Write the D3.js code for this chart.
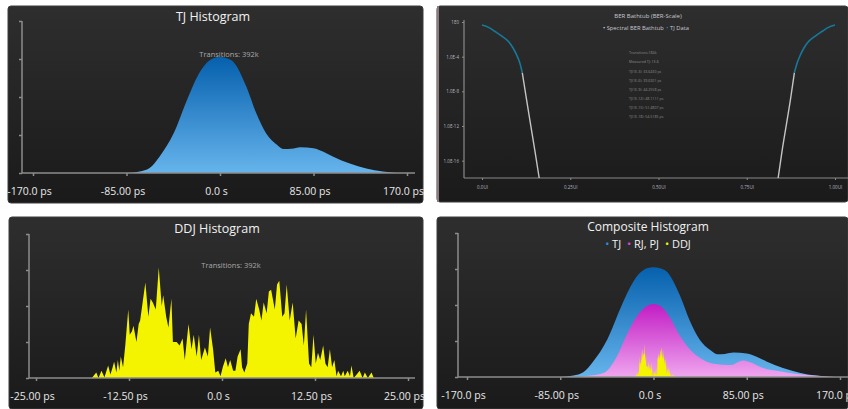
<!DOCTYPE html>
<html>
<head>
<meta charset="utf-8">
<script src="https://cdn.jsdelivr.net/npm/d3@7"></script>
<style>
body { margin: 0; background: #ffffff; }
text { font-family: "Open Sans", "Noto Sans", sans-serif; }
</style>
</head>
<body>
<svg id="chart" width="848" height="409"></svg>
<script>
// TJ histogram (ps, relative counts)
var tjPs  = [-95, -85, -73, -64, -55, -42, -30, -18, -6, 0, 6, 12, 24, 33, 42, 52, 58, 65, 73, 85, 94, 103, 118, 133, 148, 164, 175];
var tjVal = [0, 0, 0.04, 0.13, 0.43, 1.05, 1.92, 2.67, 3.02, 3.05, 3.02, 2.93, 2.27, 1.57, 1.04, 0.74, 0.63, 0.64, 0.68, 0.65, 0.56, 0.43, 0.25, 0.12, 0.04, 0, 0];

// RJ, PJ part of the composite histogram
var rjPs  = [-75, -67, -61, -45.5, -33.4, -24.3, -15.2, -7.6, 0, 7.6, 15.2, 24.3, 33.4, 42.5, 54.6, 69.8, 82, 88, 100, 115, 130.5, 145.7, 161, 170];
var rjVal = [0, 0.01, 0.03, 0.11, 0.57, 1.18, 1.69, 1.94, 2.03, 1.94, 1.64, 1.13, 0.76, 0.53, 0.37, 0.33, 0.46, 0.41, 0.25, 0.16, 0.08, 0.04, 0.01, 0];

// DDJ histogram
var ddjPs = [-17.5, -16.9, -16.6, -16.2, -15.8, -15.3, -15.0, -14.7, -14.5, -14.2, -14.0, -13.8, -13.6, -13.3, -13.0,
  -12.6, -12.4, -12.1, -11.9, -11.5, -11.2, -11.0, -10.6, -10.3, -9.9, -9.6, -9.3, -8.9, -8.5, -8.1, -7.9, -7.5,
  -7.2, -6.8, -6.6, -6.1, -5.7, -5.3, -5.0, -4.5, -4.1, -3.8, -3.4, -3.1, -2.8, -2.3, -1.9, -1.6, -1.2, -0.9,
  -0.5, -0.2, 0.1, 0.5, 0.8, 1.1, 1.5, 1.8, 2.1, 2.5, 2.7, 3.0, 3.4, 3.6, 3.9, 4.3, 4.6, 5.0, 5.3, 5.6, 6.0,
  6.3, 6.6, 7.1, 7.4, 7.7, 8.1, 8.4, 8.7, 9.1, 9.5, 9.9, 10.3, 10.7, 11.0, 11.3, 11.7, 12.0, 12.3, 12.6, 12.9,
  13.2, 13.6, 13.9, 14.2, 14.5, 14.8, 15.1, 15.4, 15.6, 16.0, 16.3, 16.5, 16.9, 17.2, 17.4, 17.7, 18.1, 18.5,
  18.9, 19.2, 19.6, 20.1, 20.4];
var ddjVal = [0, 0.15, 0, 0.2, 0.02, 0.35, 0.1, 0.3, 0.45, 0.15, 0.5, 0.2, 0.6, 0.3, 0.9,
  1.9, 1.2, 1.3, 1.45, 1.0, 1.5, 1.6, 2.2, 2.65, 1.7, 2.2, 2.1, 1.9, 3.07, 2.0, 2.3, 1.7,
  1.4, 2.2, 1.0, 1.0, 0.9, 1.1, 0.5, 1.5, 0.8, 1.2, 0.6, 1.2, 0.5, 0.85, 0.6, 1.4, 0.8, 0.15,
  0.2, 0.05, 0.3, 0.55, 0.3, 0.5, 0.2, 0.2, 0.6, 0.8, 0.3, 0.15, 0.4, 1.5, 1.8, 1.7, 2.2, 1.9, 1.6, 2.1, 1.8,
  2.4, 2.45, 1.9, 2.6, 2.7, 1.7, 1.8, 2.6, 1.6, 2.1, 1.1, 1.6, 1.5, 0.9, 1.9, 0.4, 0.3, 1.2, 0.4, 0.7,
  0.5, 0.9, 0.4, 0.3, 0.8, 0.3, 0.5, 0.05, 0.2, 0.05, 0.2, 0.05, 0.2, 0.05, 0.35, 0, 0.1, 0.2,
  0, 0.15, 0, 0.15, 0];
var ddjCompositeScale = 0.3;

// tick labels
var psTicks = [-170, -85, 0, 85, 170];
var psTickLabels = ["-170.0 ps", "-85.00 ps", "0.0 s", "85.00 ps", "170.0 ps"];
var ddjTicks = [-25, -12.5, 0, 12.5, 25];
var ddjTickLabels = ["-25.00 ps", "-12.50 ps", "0.0 s", "12.50 ps", "25.00 ps"];

// BER bathtub (UI, log10 BER)
var tjLeftUi   = [0, 0.02, 0.037, 0.055, 0.075, 0.088, 0.098, 0.107, 0.114];
var tjLeftExp  = [-0.35, -0.65, -1.1, -1.6, -2.26, -3.0, -3.8, -4.7, -5.83];
var specLeftUi  = [0.114, 0.126, 0.138, 0.150, 0.162];
var specLeftExp = [-5.83, -8.9, -11.9, -14.9, -18];
var specRightUi  = [0.839, 0.850, 0.862, 0.874, 0.885];
var specRightExp = [-18, -14.9, -11.9, -8.9, -5.83];
var tjRightUi  = [0.885, 0.893, 0.902, 0.912, 0.925, 0.945, 0.963, 0.98, 1.0];
var tjRightExp = [-5.83, -4.7, -3.8, -3.0, -2.26, -1.6, -1.1, -0.65, -0.35];
var berYTicks = [0, -4, -8, -12, -16];
var berYLabels = ["1E0", "1.0E-4", "1.0E-8", "1.0E-12", "1.0E-16"];
var berXTicks = [0, 0.25, 0.5, 0.75, 1];
var berXLabels = ["0.0UI", "0.25UI", "0.50UI", "0.75UI", "1.00UI"];
var berStats = ["Transitions:184k", "Measured TJ: 1E-6", "TJ(1E-3): 33.6430 ps", "TJ(1E-6): 39.6301 ps",
  "TJ(1E-9): 44.2558 ps", "TJ(1E-12): 48.1111 ps", "TJ(1E-15): 51.4807 ps", "TJ(1E-18): 54.5185 ps"];

// legends
var berLegendNames = ["Spectral BER Bathtub", "TJ Data"];
var berLegendColors = ["#e0e0e0", "#1a8fb8"];
var compLegendNames = ["TJ", "RJ, PJ", "DDJ"];
var compLegendColors = ["#2e8ed8", "#e040e0", "#f4f400"];

var svg = d3.select("#chart");
var defs = svg.append("defs");

function linGrad(id, c0, c1) {
    var g = defs.append("linearGradient").attr("id", id)
        .attr("x1", 0).attr("y1", 0).attr("x2", 0).attr("y2", 1);
    g.append("stop").attr("offset", "0%").attr("stop-color", c0);
    g.append("stop").attr("offset", "100%").attr("stop-color", c1);
}
linGrad("panelBg", "#2e2e2e", "#1a1a1a");
linGrad("tjFill", "#0660ad", "#66b4ec");
linGrad("rjFill", "#c21cc4", "#efa6ef");

function panel(x, y, w, h) {
    svg.append("rect")
        .attr("x", x).attr("y", y).attr("width", w).attr("height", h)
        .attr("rx", 3)
        .attr("fill", "url(#panelBg)")
        .attr("stroke", "#3c3c3c");
}

function zip(a, b) {
    return a.map(function (v, i) { return [v, b[i]]; });
}

// axes for the three histogram panels
function histAxes(o) {
    var g = svg.append("g");
    g.append("line")
        .attr("x1", o.axisX).attr("x2", o.axisX)
        .attr("y1", o.y.range()[1]).attr("y2", o.y.range()[0])
        .attr("stroke", "#8c8c8c").attr("stroke-width", 1.5);
    g.append("line")
        .attr("x1", o.axisX).attr("x2", o.axisEnd)
        .attr("y1", o.y.range()[0]).attr("y2", o.y.range()[0])
        .attr("stroke", "#8c8c8c").attr("stroke-width", 1.5);

    var ya = g.append("g")
        .attr("transform", "translate(" + o.axisX + ",0)")
        .call(d3.axisLeft(o.y).ticks(4).tickSize(3).tickFormat(""));
    ya.select(".domain").remove();
    ya.selectAll("line").attr("stroke", "#8c8c8c").attr("stroke-width", 1.5);

    var xa = g.append("g")
        .attr("transform", "translate(0," + o.y.range()[0] + ")")
        .call(d3.axisBottom(o.x).tickValues(o.ticks).tickSize(3).tickPadding(12)
            .tickFormat(function (d, i) { return o.labels[i]; }));
    xa.select(".domain").remove();
    xa.selectAll("line").attr("stroke", "#8c8c8c").attr("stroke-width", 1.5);
    xa.selectAll("text")
        .attr("fill", "#e8e8e8")
        .attr("dx", -4)
        .style("font-size", "10.5px");
}

function title(x, y, s) {
    svg.append("text").attr("x", x).attr("y", y)
        .attr("text-anchor", "middle")
        .attr("fill", "#f2f2f2")
        .style("font-size", "12.5px")
        .text(s);
}

function note(x, y, s) {
    svg.append("text").attr("x", x).attr("y", y)
        .attr("text-anchor", "middle")
        .attr("fill", "#a8a8a8")
        .style("font-size", "7.5px")
        .text(s);
}

// centred legend: coloured bullet + name, each as its own text
function legend(cx, y, names, colors, size, textColor, gap) {
    var g = svg.append("g");
    var xPos = 0;
    names.forEach(function (n, i) {
        var b = g.append("text").attr("x", xPos).attr("y", y)
            .attr("fill", colors[i]).style("font-size", size + "px").text("\u2022");
        xPos += b.node().getComputedTextLength() + size * 0.25;
        var t = g.append("text").attr("x", xPos).attr("y", y)
            .attr("fill", textColor).style("font-size", size + "px").text(n);
        xPos += t.node().getComputedTextLength() + gap;
    });
    xPos -= gap;
    g.attr("transform", "translate(" + (cx - xPos / 2) + ",0)");
}

function drawArea(x, y, data, fill, curve) {
    var area = d3.area()
        .x(function (d) { return x(d[0]); })
        .y0(y(0))
        .y1(function (d) { return y(d[1]); })
        .curve(curve);
    svg.append("path").datum(data).attr("d", area).attr("fill", fill);
}

// ---- TJ Histogram
panel(8, 6, 415, 197);
var x1 = d3.scaleLinear().domain([-170, 170]).range([33, 407]);
var y1 = d3.scaleLinear().domain([0, 4]).range([173, 21]);
drawArea(x1, y1, zip(tjPs, tjVal), "url(#tjFill)", d3.curveMonotoneX);
histAxes({ x: x1, y: y1, axisX: 22, axisEnd: 415, ticks: psTicks, labels: psTickLabels });
title(213, 21, "TJ Histogram");
note(229, 57, "Transitions: 392k");

// ---- BER Bathtub
panel(437, 6, 411, 196);
svg.append("line").attr("x1", 438).attr("x2", 438).attr("y1", 6).attr("y2", 202)
    .attr("stroke", "#8a7a7c").attr("stroke-width", 2);
var bx = d3.scaleLinear().domain([0, 1]).range([482, 835]);
var by = d3.scaleLinear().domain([-18, 0]).range([178, 22]);
svg.append("line").attr("x1", 464).attr("x2", 464).attr("y1", 20).attr("y2", 178)
    .attr("stroke", "#8a8a8a").attr("stroke-width", 1.2);
svg.append("line").attr("x1", 464).attr("x2", 848).attr("y1", 178).attr("y2", 178)
    .attr("stroke", "#8a8a8a").attr("stroke-width", 1.2);
var bya = svg.append("g").attr("transform", "translate(464,0)")
    .call(d3.axisLeft(by).tickValues(berYTicks).tickSize(2).tickPadding(3)
        .tickFormat(function (d, i) { return berYLabels[i]; }));
bya.select(".domain").remove();
bya.selectAll("line").attr("stroke", "#8a8a8a");
bya.selectAll("text").attr("fill", "#b8b8c0").style("font-size", "4.5px");
var bxa = svg.append("g").attr("transform", "translate(0,178)")
    .call(d3.axisBottom(bx).tickValues(berXTicks).tickSize(2).tickPadding(6)
        .tickFormat(function (d, i) { return berXLabels[i]; }));
bxa.select(".domain").remove();
bxa.selectAll("line").attr("stroke", "#8a8a8a");
bxa.selectAll("text").attr("fill", "#b8b8c0").style("font-size", "4.5px");

var berLine = d3.line()
    .x(function (d) { return bx(d[0]); })
    .y(function (d) { return by(d[1]); })
    .curve(d3.curveMonotoneX);
[[specLeftUi, specLeftExp], [specRightUi, specRightExp]].forEach(function (s) {
    svg.append("path").datum(zip(s[0], s[1])).attr("d", berLine)
        .attr("fill", "none").attr("stroke", "#c4c4c4").attr("stroke-width", 1.4);
});
[[tjLeftUi, tjLeftExp], [tjRightUi, tjRightExp]].forEach(function (s) {
    svg.append("path").datum(zip(s[0], s[1])).attr("d", berLine)
        .attr("fill", "none").attr("stroke", "#17789a").attr("stroke-width", 1.6);
});
svg.append("text").attr("x", 648).attr("y", 18).attr("text-anchor", "middle")
    .attr("fill", "#c8c8d0").style("font-size", "6px").text("BER Bathtub (BER-Scale)");
legend(646, 30, berLegendNames, berLegendColors, 5.8, "#c8c8d0", 2.5);
svg.append("g").selectAll("text").data(berStats).enter().append("text")
    .attr("x", 629)
    .attr("y", function (d, i) { return i < 2 ? 54 + i * 9 : 73 + (i - 2) * 9; })
    .attr("fill", "#8c8c8c")
    .style("font-size", "3.6px")
    .text(function (d) { return d; });

// ---- DDJ Histogram
panel(9, 217, 414, 192);
var x3 = d3.scaleLinear().domain([-25, 25]).range([36, 408]);
var y3 = d3.scaleLinear().domain([0, 4]).range([378, 234]);
drawArea(x3, y3, zip(ddjPs, ddjVal), "#f4f400", d3.curveLinear);
histAxes({ x: x3, y: y3, axisX: 29, axisEnd: 415, ticks: ddjTicks, labels: ddjTickLabels });
title(217, 233, "DDJ Histogram");
note(231, 268, "Transitions: 392k");

// ---- Composite Histogram
panel(437, 217, 411, 192);
var x4 = d3.scaleLinear().domain([-170, 170]).range([467, 840]);
var y4 = d3.scaleLinear().domain([0, 4]).range([377, 233]);
drawArea(x4, y4, zip(tjPs, tjVal), "url(#tjFill)", d3.curveMonotoneX);
drawArea(x4, y4, zip(rjPs, rjVal), "url(#rjFill)", d3.curveMonotoneX);
drawArea(x4, y4, zip(ddjPs, ddjVal.map(function (v) { return v * ddjCompositeScale; })), "#f4f400", d3.curveLinear);
histAxes({ x: x4, y: y4, axisX: 458, axisEnd: 848, ticks: psTicks, labels: psTickLabels });
svg.append("text").attr("x", 648).attr("y", 231)
    .attr("text-anchor", "middle")
    .attr("fill", "#f2f2f2")
    .style("font-size", "12px")
    .text("Composite Histogram");
legend(648, 248, compLegendNames, compLegendColors, 11, "#f2f2f2", 6);
</script>
</body>
</html>
